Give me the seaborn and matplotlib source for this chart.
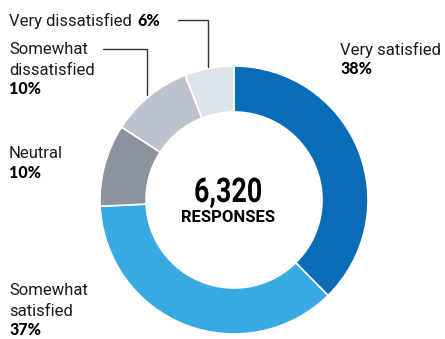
import matplotlib
matplotlib.use("Agg")
import matplotlib.pyplot as plt
import matplotlib.patheffects as pe
from matplotlib.transforms import Affine2D
import seaborn as sns

# ---- data ----
categories = ["Very satisfied", "Somewhat satisfied", "Neutral",
              "Somewhat dissatisfied", "Very dissatisfied"]
values = [38, 37, 10, 10, 6]
colors = ["#0a6cb6", "#38a9e1", "#8a939e", "#bcc3cc", "#dce3eb"]
total_responses = "6,320"
center_label = "RESPONSES"

sns.set_theme(style="white")
W, H = 445, 339
fig = plt.figure(figsize=(W / 100, H / 100), dpi=100)
ax = fig.add_axes([0, 0, 1, 1])


def Y(y):
    return H - y


class HStretch(pe.AbstractPathEffect):
    """Horizontally condense glyph outlines about a display x position."""
    def __init__(self, sx, x0):
        super().__init__()
        self.sx = sx
        self.x0 = x0

    def draw_path(self, renderer, gc, tpath, affine, rgbFace=None):
        a = affine + Affine2D().translate(-self.x0, 0).scale(self.sx, 1).translate(self.x0, 0)
        renderer.draw_path(gc, tpath, a, rgbFace)


cx, cy, R = 234, 200, 134
ax.pie(values, colors=colors, startangle=90, counterclock=False,
       radius=R, center=(cx, Y(cy)),
       wedgeprops=dict(width=46, edgecolor="white", linewidth=1.2))
ax.set_xlim(0, W)
ax.set_ylim(0, H)
ax.set_aspect("equal")
ax.set_axis_off()

LF = "Roboto"
FS = 12
PF = "Lato"
PFS = 11.5
TXT = "#1a1a1a"


def reg(x, y, s):
    return ax.text(x, Y(y), s, fontsize=FS, family=LF, color=TXT,
                   ha="left", va="baseline")


def bold(x, y, s):
    return ax.text(x, Y(y), s, fontsize=PFS, family=PF, fontweight="black",
                   color="black", ha="left", va="baseline")


pct = [f"{v}%" for v in values]

# Very satisfied
reg(340, 55, "Very satisfied")
bold(340, 74, pct[0])
# Somewhat satisfied
reg(9, 295, "Somewhat")
reg(9, 316, "satisfied")
bold(9, 335, pct[1])
# Neutral
reg(9, 158, "Neutral")
bold(9, 178, pct[2])
# Somewhat dissatisfied
reg(9, 54, "Somewhat")
reg(9, 75, "dissatisfied")
bold(9, 94, pct[3])
# Very dissatisfied (inline bold)
t = reg(9, 26, "Very dissatisfied ")
fig.canvas.draw()
bb = t.get_window_extent(renderer=fig.canvas.get_renderer())
x_end = ax.transData.inverted().transform((bb.x1, bb.y0))[0]
bold(x_end + 2, 26, pct[4])

# leader lines
lc = "#333333"
ax.plot([178, 208, 208], [Y(20), Y(20), Y(67)], color=lc, lw=1)
ax.plot([103, 147, 147], [Y(49), Y(49), Y(95)], color=lc, lw=1)

# center text
tx = 228
ax.text(tx, Y(202), total_responses, fontsize=24.5,
        family="Roboto", fontweight="bold", color="black",
        ha="center", va="baseline",
        path_effects=[HStretch(0.79, tx)])
ax.text(tx, Y(222), center_label, fontsize=12, family="Roboto",
        fontweight="bold", color="black", ha="center", va="baseline")

fig.savefig("out.png", dpi=100)
